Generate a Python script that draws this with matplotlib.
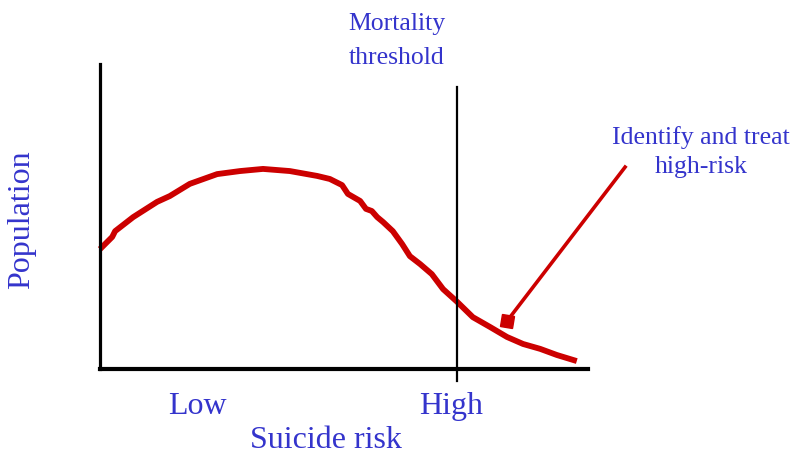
import numpy as np
import matplotlib.pyplot as plt
from matplotlib.markers import MarkerStyle
from matplotlib.transforms import Affine2D

# population distribution over suicide risk (arbitrary units 0-10)
risk = [0.00, 0.25, 0.31, 0.68, 1.17, 1.43, 1.84, 2.40, 2.87, 3.34, 3.89, 4.10,
        4.45, 4.71, 4.96, 5.08, 5.33, 5.45, 5.57, 5.68, 5.80, 6.00, 6.19, 6.35,
        6.56, 6.80, 7.03, 7.32, 7.64, 7.99, 8.34, 8.67, 9.02, 9.36, 9.77]
population = [3.93, 4.33, 4.52, 4.98, 5.48, 5.67, 6.07, 6.39, 6.49, 6.56, 6.49, 6.43,
              6.33, 6.23, 6.03, 5.74, 5.51, 5.25, 5.18, 4.98, 4.82, 4.52, 4.10, 3.70,
              3.44, 3.11, 2.62, 2.20, 1.70, 1.38, 1.05, 0.82, 0.66, 0.46, 0.26]

threshold = 7.32
pointer_start = (10.76, 6.62)
pointer_end = (8.34, 1.57)

blue = '#3434cc'
red = '#cc0000'
font = 'Liberation Serif'

fig = plt.figure(figsize=(7.96, 4.60), dpi=100)
ax = fig.add_axes([100/796, 90/460, 488/796, 305/460])
ax.set_xlim(0, 10)
ax.set_ylim(0, 10)

ax.plot(risk, population, color=red, lw=4.2, solid_capstyle='butt',
        solid_joinstyle='round', clip_on=False)

ax.plot([threshold, threshold], [-0.39, 9.25], color='black', lw=1.6, clip_on=False)

# pointer line with a square head
ax.plot([pointer_start[0], pointer_end[0]], [pointer_start[1], pointer_end[1]],
        color=red, lw=2.6, clip_on=False)
sq = MarkerStyle('s', transform=Affine2D().rotate_deg(-8))
ax.plot([pointer_end[0]], [pointer_end[1]], marker=sq, ms=9, color=red, clip_on=False)

for side in ['top', 'right']:
    ax.spines[side].set_visible(False)
ax.spines['left'].set_linewidth(2.3)
ax.spines['bottom'].set_linewidth(3)
ax.set_xticks([])
ax.set_yticks([])

fig.text(397/796, 1 - 41/460, 'Mortality\nthreshold', ha='center', va='center',
         fontsize=18.5, color=blue, family=font, linespacing=1.65)
fig.text(701/796, 1 - 152/460, 'Identify and treat\nhigh-risk', ha='center', va='center',
         fontsize=18.5, color=blue, family=font, linespacing=1.4)
fig.text(22/796, 1 - 220/460, 'Population', ha='center', va='center', rotation=90,
         fontsize=23, color=blue, family=font)
fig.text(197/796, 1 - 407/460, 'Low', ha='center', va='center',
         fontsize=23, color=blue, family=font)
fig.text(451/796, 1 - 407/460, 'High', ha='center', va='center',
         fontsize=23, color=blue, family=font)
fig.text(326/796, 1 - 441/460, 'Suicide risk', ha='center', va='center',
         fontsize=23, color=blue, family=font)

plt.savefig('out.png', dpi=100)
